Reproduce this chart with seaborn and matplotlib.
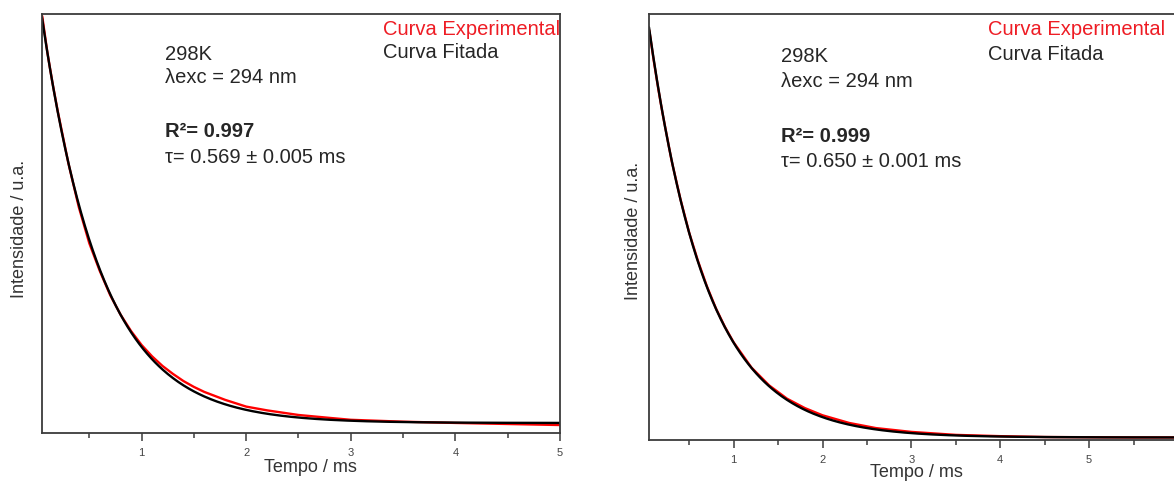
import numpy as np
import pandas as pd
import matplotlib
matplotlib.use("Agg")
import matplotlib.pyplot as plt
from matplotlib.ticker import MultipleLocator, FuncFormatter
import seaborn as sns

sns.set_theme(style="white")
plt.rcParams["font.family"] = ["Liberation Sans", "DejaVu Sans"]

# ---- Sample A: experimental decay (normalised intensity vs time in ms)
time_a = [0.05, 0.10, 0.15, 0.20, 0.30, 0.40, 0.50, 0.60, 0.70, 0.80, 0.90,
          1.00, 1.10, 1.20, 1.30, 1.40, 1.50, 1.60, 1.80, 2.00, 2.20, 2.50,
          2.80, 3.00, 3.50, 4.00, 4.50, 5.00]
intensity_a = [0.995, 0.907, 0.833, 0.766, 0.644, 0.539, 0.453, 0.387, 0.329,
               0.282, 0.243, 0.210, 0.183, 0.160, 0.141, 0.124, 0.110, 0.098,
               0.079, 0.063, 0.054, 0.043, 0.036, 0.0315, 0.027, 0.024,
               0.0215, 0.019]
# mono-exponential fit parameters
tau_a, tau_err_a, r2_a = 0.569, 0.005, 0.997
amp_a, offset_a = 1.0525, 0.0239

# ---- Sample B
time_b = [0.05, 0.10, 0.15, 0.20, 0.30, 0.40, 0.50, 0.60, 0.70, 0.80, 0.90,
          1.00, 1.20, 1.40, 1.60, 1.80, 2.00, 2.30, 2.60, 3.00, 3.50, 4.00,
          4.50, 5.00, 5.50, 6.00]
intensity_b = [0.962, 0.891, 0.826, 0.766, 0.657, 0.566, 0.486, 0.419, 0.360,
               0.309, 0.266, 0.229, 0.170, 0.128, 0.097, 0.075, 0.058, 0.040,
               0.028, 0.019, 0.012, 0.009, 0.007, 0.0065, 0.006, 0.006]
tau_b, tau_err_b, r2_b = 0.650, 0.001, 0.999
amp_b, offset_b = 1.035, 0.0059

temperature = "298K"
excitation = "294 nm"

W, H = 1174, 483
fig = plt.figure(figsize=(W / 100, H / 100), dpi=100)


def fig_xy(x, y):
    return x / W, 1 - y / H


RED = "#ff0000"
TXT_RED = "#ee1c24"
AX_GREY = "#3c3c3c"


def draw_panel(ax, t, y, tau, amp, offset, xlim, last_label):
    df = pd.DataFrame({"t": t, "I": y})
    sns.lineplot(data=df, x="t", y="I", ax=ax, color=RED, linewidth=1.7,
                 estimator=None, sort=False)
    tf = np.linspace(xlim[0], xlim[1], 400)
    fit = pd.DataFrame({"t": tf, "I": offset + amp * np.exp(-tf / tau)})
    sns.lineplot(data=fit, x="t", y="I", ax=ax, color="black", linewidth=1.7,
                 estimator=None, sort=False)
    ax.set_xlim(*xlim)
    ax.set_ylim(0, 1)
    ax.set_yticks([])
    ax.xaxis.set_major_locator(MultipleLocator(1))
    ax.xaxis.set_minor_locator(MultipleLocator(0.5))
    ax.xaxis.set_major_formatter(
        FuncFormatter(lambda v, _: f"{v:.0f}" if 0.5 < v < last_label + 0.5 else ""))
    ax.tick_params(axis="x", which="major", direction="out", length=6,
                   width=1.1, color=AX_GREY, labelcolor="#444444",
                   labelsize=8, pad=5, bottom=True)
    ax.tick_params(axis="x", which="minor", direction="out", length=3.5,
                   width=1.1, color=AX_GREY, bottom=True)
    for s in ax.spines.values():
        s.set_color(AX_GREY)
        s.set_linewidth(1.3)
    ax.set_xlabel("Tempo / ms", fontsize=13, color="#333333")
    ax.set_ylabel("Intensidade / u.a.", fontsize=13, color="#333333",
                  va="center")


ax1 = fig.add_axes([42 / W, 1 - 433 / H, (560 - 42) / W, (433 - 14) / H])
draw_panel(ax1, time_a, intensity_a, tau_a, amp_a, offset_a, (0.048, 5.0), 5)
ax1.xaxis.set_label_coords(0.518, -0.061)
ax1.yaxis.set_label_coords(-0.0434, 0.487)

ax2 = fig.add_axes([649 / W, 1 - 440 / H, (1178 - 649) / W, (440 - 14) / H])
draw_panel(ax2, time_b, intensity_b, tau_b, amp_b, offset_b, (0.047, 6.0), 5)
ax2.xaxis.set_label_coords(0.506, -0.0554)
ax2.yaxis.set_label_coords(-0.030, 0.49)

FS = 14.5


def annotate(x0, x_leg, ys, r2, tau, tau_err):
    y_temp, y_exc, y_r2, y_tau, y_leg1, y_leg2 = ys
    fig.text(*fig_xy(x0, y_temp), temperature, fontsize=FS, va="baseline")
    fig.text(*fig_xy(x0, y_exc), f"λexc = {excitation}", fontsize=FS,
             va="baseline")
    fig.text(*fig_xy(x0, y_r2), f"R²= {r2:.3f}", fontsize=FS,
             fontweight="bold", va="baseline")
    fig.text(*fig_xy(x0, y_tau), f"τ= {tau:.3f} ± {tau_err:.3f} ms",
             fontsize=FS, va="baseline")
    fig.text(*fig_xy(x_leg, y_leg1), "Curva Experimental", fontsize=FS,
             color=TXT_RED, va="baseline")
    fig.text(*fig_xy(x_leg, y_leg2), "Curva Fitada", fontsize=FS,
             va="baseline")


annotate(165, 383, (60, 83, 137, 163, 35, 58), r2_a, tau_a, tau_err_a)
annotate(781, 988, (62, 87, 142, 167, 35, 60), r2_b, tau_b, tau_err_b)

fig.savefig("out.png", dpi=100)
